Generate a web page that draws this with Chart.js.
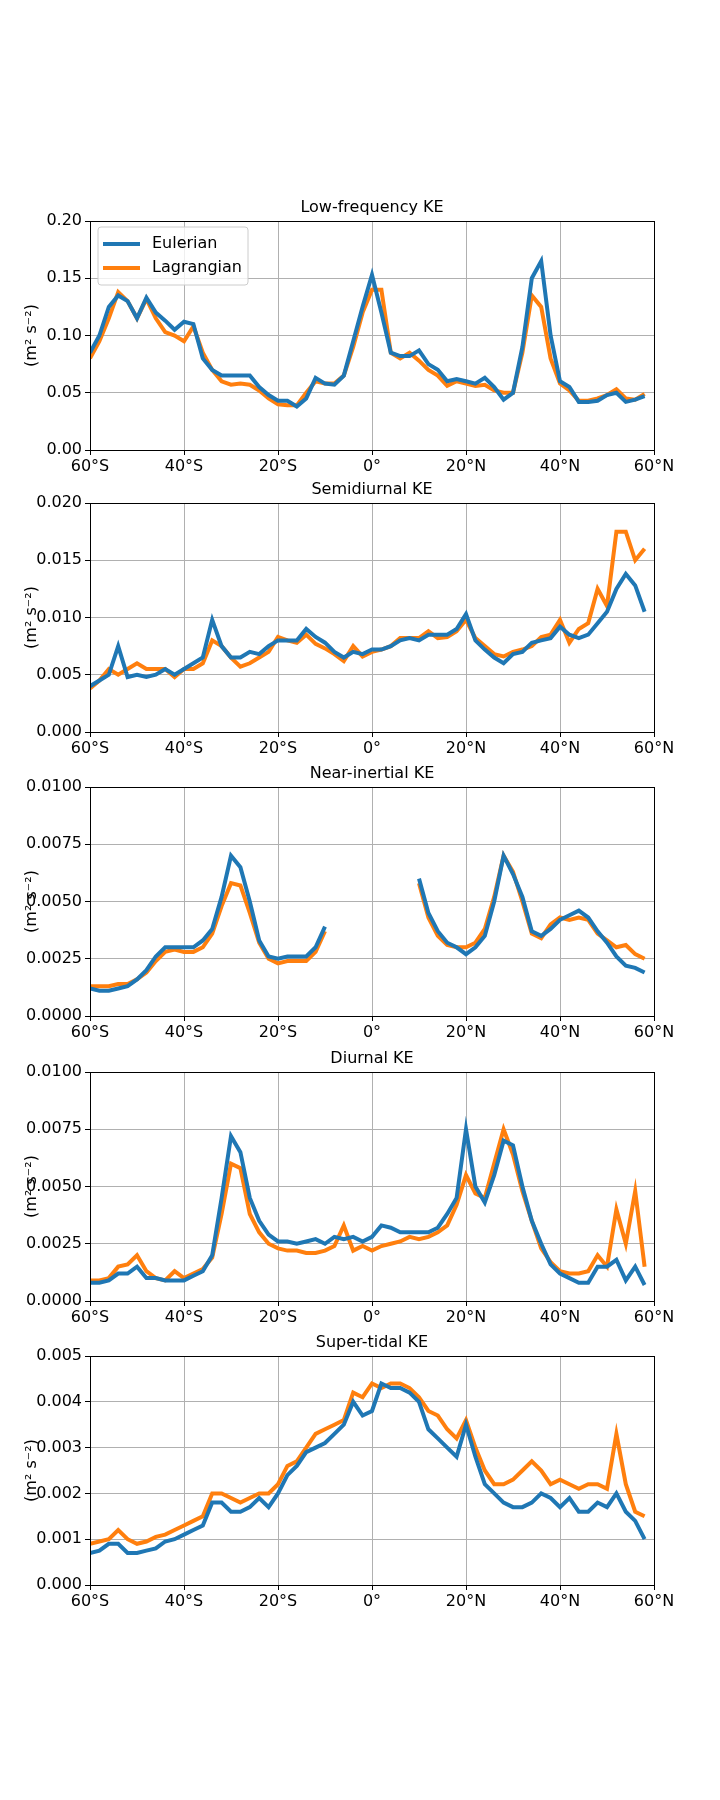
<!DOCTYPE html>
<html>
<head>
<meta charset="utf-8">
<script src="https://cdn.jsdelivr.net/npm/chart.js@4"></script>
<style>
  body { margin: 0; background: #fff; width: 720px; height: 1800px; position: relative; }
  canvas { position: absolute; left: 0; }
</style>
</head>
<body>
<canvas id="c0" width="720" height="296" style="top:191px"></canvas>
<canvas id="c1" width="720" height="296" style="top:473px"></canvas>
<canvas id="c2" width="720" height="296" style="top:757px"></canvas>
<canvas id="c3" width="720" height="296" style="top:1042px"></canvas>
<canvas id="c4" width="720" height="296" style="top:1326px"></canvas>
<script>
// latitude grid (2 degree)
const lat = [];
for (let l = -60; l <= 58; l += 2) lat.push(l);

const titles = ["Low-frequency KE", "Semidiurnal KE", "Near-inertial KE", "Diurnal KE", "Super-tidal KE"];
const yMax = [0.2, 0.02, 0.01, 0.01, 0.005];
const yStep = [0.05, 0.005, 0.0025, 0.0025, 0.001];
const yDigits = [2, 3, 4, 4, 3];

const lowE = [.085,.10,.125,.135,.13,.115,.133,.12,.113,.105,.112,.11,.08,.07,.065,.065,.065,.065,.055,.048,.043,.043,.038,.045,.063,.058,.057,.065,.095,.125,.153,.12,.085,.082,.082,.087,.075,.07,.06,.062,.06,.058,.063,.055,.044,.05,.09,.15,.165,.10,.06,.055,.042,.042,.043,.048,.05,.042,.044,.047];
const lowL = [.08,.095,.115,.138,.13,.115,.132,.115,.103,.10,.095,.108,.085,.07,.06,.057,.058,.057,.052,.045,.04,.039,.039,.05,.06,.058,.058,.065,.09,.12,.14,.14,.085,.08,.085,.078,.07,.065,.056,.06,.058,.056,.057,.052,.05,.05,.085,.135,.125,.08,.058,.052,.043,.043,.045,.048,.053,.045,.044,.049];

const semiE = [.004,.0045,.005,.0075,.0048,.005,.0048,.005,.0055,.005,.0055,.006,.0065,.0098,.0075,.0065,.0065,.007,.0068,.0075,.008,.008,.008,.009,.0083,.0078,.007,.0065,.007,.0068,.0072,.0072,.0075,.008,.0082,.008,.0085,.0085,.0085,.009,.0103,.008,.0072,.0065,.006,.0068,.007,.0078,.008,.0082,.0092,.0085,.0082,.0085,.0095,.0105,.0125,.0138,.0128,.0105];
const semiL = [.0038,.0045,.0055,.005,.0055,.006,.0055,.0055,.0055,.0048,.0055,.0055,.006,.008,.0075,.0065,.0057,.006,.0065,.007,.0083,.008,.0078,.0085,.0077,.0073,.0068,.0062,.0075,.0066,.007,.0072,.0075,.0082,.0082,.0082,.0088,.0082,.0083,.0088,.0098,.0082,.0075,.0068,.0066,.007,.0072,.0075,.0083,.0085,.0098,.0078,.009,.0095,.0125,.011,.0175,.0175,.015,.016];

const nearE = [.0012,.0011,.0011,.0012,.0013,.0016,.002,.0026,.003,.003,.003,.003,.0033,.0038,.0052,.007,.0065,.005,.0033,.0026,.0025,.0026,.0026,.0026,.003,.0039,null,null,null,null,null,null,null,null,null,.006,.0045,.0037,.0032,.003,.0027,.003,.0035,.005,.007,.0062,.0052,.0037,.0035,.0038,.0042,.0044,.0046,.0043,.0037,.0032,.0026,.0022,.0021,.0019];
const nearL = [.0013,.0013,.0013,.0014,.0014,.0016,.0019,.0024,.0028,.0029,.0028,.0028,.003,.0036,.0048,.0058,.0057,.0045,.0032,.0025,.0023,.0024,.0024,.0024,.0028,.0037,null,null,null,null,null,null,null,null,null,.0058,.0043,.0035,.0031,.003,.003,.0032,.0038,.0052,.007,.0063,.005,.0036,.0034,.004,.0043,.0042,.0043,.0042,.0036,.0033,.003,.0031,.0027,.0025];

const diuE = [.0008,.0008,.0009,.0012,.0012,.0015,.001,.001,.0009,.0009,.0009,.0011,.0013,.002,.0045,.0072,.0065,.0045,.0035,.0029,.0026,.0026,.0025,.0026,.0027,.0025,.0028,.0027,.0028,.0026,.0028,.0033,.0032,.003,.003,.003,.003,.0032,.0038,.0045,.0075,.005,.0043,.0055,.007,.0068,.005,.0035,.0025,.0016,.0012,.001,.0008,.0008,.0015,.0015,.0018,.0009,.0015,.0007];
const diuL = [.0009,.0009,.001,.0015,.0016,.002,.0013,.001,.0009,.0013,.001,.0012,.0014,.0019,.0038,.006,.0058,.0038,.003,.0025,.0023,.0022,.0022,.0021,.0021,.0022,.0024,.0033,.0022,.0024,.0022,.0024,.0025,.0026,.0028,.0027,.0028,.003,.0033,.0042,.0055,.0047,.0045,.006,.0075,.0064,.0048,.0035,.0023,.0017,.0013,.0012,.0012,.0013,.002,.0015,.004,.0025,.0048,.0015];

const supE = [.0007,.00075,.0009,.0009,.0007,.0007,.00075,.0008,.00095,.001,.0011,.0012,.0013,.0018,.0018,.0016,.0016,.0017,.0019,.0017,.002,.0024,.0026,.0029,.003,.0031,.0033,.0035,.004,.0037,.0038,.0044,.0043,.0043,.0042,.004,.0034,.0032,.003,.0028,.0035,.0028,.0022,.002,.0018,.0017,.0017,.0018,.002,.0019,.0017,.0019,.0016,.0016,.0018,.0017,.002,.0016,.0014,.001];
const supL = [.0009,.00095,.001,.0012,.001,.0009,.00095,.00105,.0011,.0012,.0013,.0014,.0015,.002,.002,.0019,.0018,.0019,.002,.002,.0022,.0026,.0027,.003,.0033,.0034,.0035,.0036,.0042,.0041,.0044,.0043,.0044,.0044,.0043,.0041,.0038,.0037,.0034,.0032,.0036,.003,.0025,.0022,.0022,.0023,.0025,.0027,.0025,.0022,.0023,.0022,.0021,.0022,.0022,.0021,.0033,.0022,.0016,.0015];

const eul = [lowE, semiE, nearE, diuE, supE];
const lag = [lowL, semiL, nearL, diuL, supL];

const FONT = "'DejaVu Sans', sans-serif";
const BLUE = "#1f77b4", ORANGE = "#ff7f0e";

function latLabel(v) {
  if (v === 0) return "0°";
  return Math.abs(v) + "°" + (v < 0 ? "S" : "N");
}

const decor = {
  id: "decor",
  afterDraw(chart, args, opts) {
    const ctx = chart.ctx, a = chart.chartArea;
    ctx.save();
    ctx.strokeStyle = "#000";
    ctx.lineWidth = 1;
    ctx.strokeRect(a.left + 0.5, a.top + 0.5, a.right - a.left, a.bottom - a.top);
    ctx.fillStyle = "#000";
    ctx.font = "16px " + FONT;
    ctx.textAlign = "center";
    ctx.textBaseline = "bottom";
    ctx.fillText(opts.title, (a.left + a.right) / 2, a.top - 5);
    if (opts.legend) {
      const x = a.left + 8, y = a.top + 6;
      ctx.fillStyle = "rgba(255,255,255,0.8)";
      ctx.strokeStyle = "#ccc";
      ctx.beginPath();
      ctx.roundRect(x, y, 150, 58, 3);
      ctx.fill(); ctx.stroke();
      ctx.lineWidth = 4;
      [["Eulerian", BLUE], ["Lagrangian", ORANGE]].forEach((it, i) => {
        const yy = y + 17 + i * 24;
        ctx.strokeStyle = it[1];
        ctx.beginPath(); ctx.moveTo(x + 5, yy); ctx.lineTo(x + 42, yy); ctx.stroke();
        ctx.fillStyle = "#000";
        ctx.font = "16px " + FONT;
        ctx.textAlign = "left";
        ctx.textBaseline = "middle";
        ctx.fillText(it[0], x + 54, yy);
      });
    }
    ctx.restore();
  }
};

for (let i = 0; i < 5; i++) {
  const mk = (arr) => lat.map((l, k) => ({ x: l, y: arr[k] }));
  new Chart(document.getElementById("c" + i), {
    type: "line",
    data: {
      datasets: [
        { label: "Eulerian", data: mk(eul[i]), borderColor: BLUE, borderWidth: 4, pointRadius: 0, spanGaps: false, tension: 0 },
        { label: "Lagrangian", data: mk(lag[i]), borderColor: ORANGE, borderWidth: 4, pointRadius: 0, spanGaps: false, tension: 0 }
      ]
    },
    options: {
      responsive: false,
      animation: false,
      devicePixelRatio: 1,
      layout: { padding: { top: 30, right: 66, left: 22, bottom: 0 } },
      plugins: { legend: { display: false }, tooltip: { enabled: false },
        decor: { title: titles[i], legend: i === 0 } },
      scales: {
        x: {
          type: "linear", min: -60, max: 60,
          afterFit: (s) => { s.height = 37; },
          grid: { color: "#b0b0b0", tickColor: "#000", tickLength: 5 },
          border: { color: "#000" },
          ticks: { stepSize: 20, color: "#000", font: { family: FONT, size: 16 }, padding: 2,
            maxRotation: 0, callback: (v) => latLabel(v) }
        },
        y: {
          min: 0, max: yMax[i],
          afterFit: (s) => { s.width = 68; },
          grid: { color: "#b0b0b0", tickColor: "#000", tickLength: 5 },
          border: { color: "#000" },
          title: { display: true, text: "(m² s⁻²)", color: "#000", font: { family: FONT, size: 16 }, padding: 0 },
          ticks: { stepSize: yStep[i], color: "#000", font: { family: FONT, size: 16 }, padding: 3,
            callback: (v) => v.toFixed(yDigits[i]) }
        }
      }
    },
    plugins: [decor]
  });
}
</script>
</body>
</html>
